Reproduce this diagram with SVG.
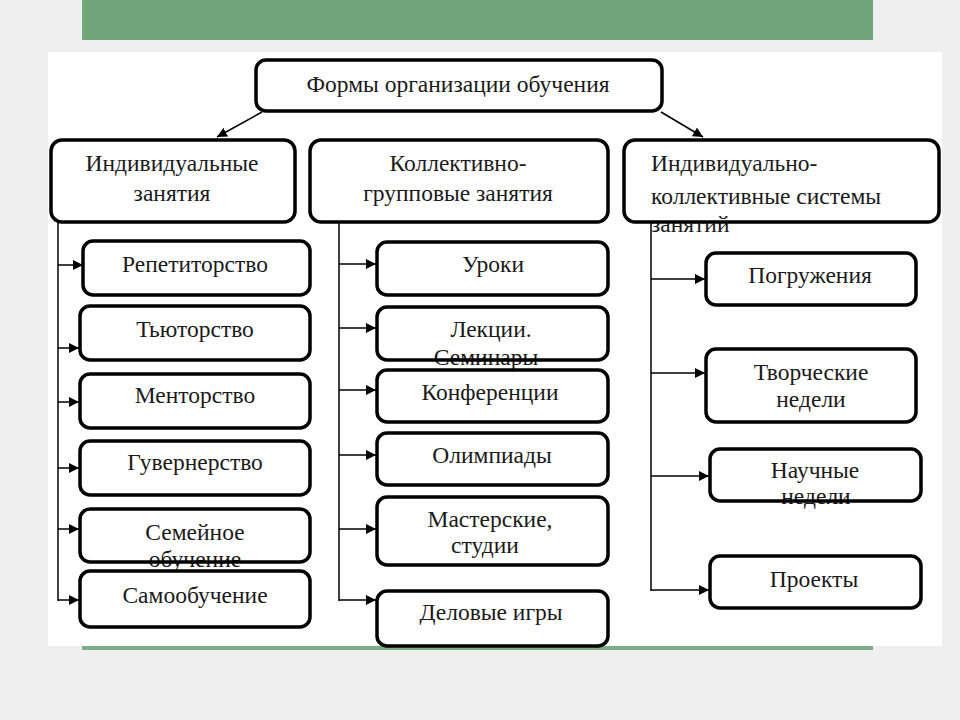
<svg xmlns="http://www.w3.org/2000/svg" width="960" height="720" viewBox="0 0 960 720">
<style>
.bx{fill:#fff;stroke:none}
.bs{fill:none;stroke:#000;stroke-width:3.5}
.t{font-family:"Liberation Serif","Times New Roman",serif;font-size:23.5px;fill:#1a1a1a;text-anchor:middle}
.tl{text-anchor:start}
.c{stroke:#000;stroke-width:1.5;fill:none}
</style>
<defs>
<marker id="ah" markerUnits="userSpaceOnUse" markerWidth="10" markerHeight="10" refX="10" refY="5" orient="auto">
<path d="M0,0 L10,5 L0,10 z" fill="#000"/>
</marker>
</defs>
<rect x="0" y="0" width="960" height="720" fill="#efefef"/>
<rect x="82" y="0" width="791" height="40" fill="#70a67a"/>
<rect x="48" y="52" width="894" height="594" fill="#fff"/>
<rect x="82" y="646" width="791" height="4" fill="#7fae86"/>

<g id="connectors">
<line class="c" x1="262" y1="112" x2="217" y2="137" marker-end="url(#ah)"/>
<line class="c" x1="661" y1="112" x2="703" y2="137" marker-end="url(#ah)"/>
<line class="c" x1="58" y1="222" x2="58" y2="601"/>
<line class="c" x1="58" y1="265" x2="83" y2="265" marker-end="url(#ah)"/>
<line class="c" x1="58" y1="348" x2="79" y2="348" marker-end="url(#ah)"/>
<line class="c" x1="58" y1="402" x2="79" y2="402" marker-end="url(#ah)"/>
<line class="c" x1="58" y1="468" x2="79" y2="468" marker-end="url(#ah)"/>
<line class="c" x1="58" y1="529" x2="79" y2="529" marker-end="url(#ah)"/>
<line class="c" x1="58" y1="600" x2="79" y2="600" marker-end="url(#ah)"/>
<line class="c" x1="339" y1="222" x2="339" y2="601"/>
<line class="c" x1="339" y1="264" x2="376" y2="264" marker-end="url(#ah)"/>
<line class="c" x1="339" y1="328" x2="376" y2="328" marker-end="url(#ah)"/>
<line class="c" x1="339" y1="390" x2="376" y2="390" marker-end="url(#ah)"/>
<line class="c" x1="339" y1="455" x2="376" y2="455" marker-end="url(#ah)"/>
<line class="c" x1="339" y1="529" x2="376" y2="529" marker-end="url(#ah)"/>
<line class="c" x1="339" y1="600" x2="376" y2="600" marker-end="url(#ah)"/>
<line class="c" x1="651" y1="222" x2="651" y2="591"/>
<line class="c" x1="651" y1="279" x2="705" y2="279" marker-end="url(#ah)"/>
<line class="c" x1="651" y1="373" x2="705" y2="373" marker-end="url(#ah)"/>
<line class="c" x1="651" y1="476" x2="709" y2="476" marker-end="url(#ah)"/>
<line class="c" x1="651" y1="590" x2="709" y2="590" marker-end="url(#ah)"/>
</g>

<g id="root">
<rect class="bx" x="256" y="60" width="406" height="51" rx="10"/>
<text class="t" x="458" y="92">Формы организации обучения</text>
<rect class="bs" x="256" y="60" width="406" height="51" rx="10"/>
</g>

<g id="individual">
<rect class="bx" x="51" y="140" width="244" height="82" rx="11"/>
<text class="t" x="172" y="171">Индивидуальные</text>
<text class="t" x="172" y="201">занятия</text>
<rect class="bs" x="51" y="140" width="244" height="82" rx="11"/>
</g>
<g id="collective">
<rect class="bx" x="310" y="140" width="298" height="82" rx="11"/>
<text class="t" x="458" y="171">Коллективно-</text>
<text class="t" x="458" y="201">групповые занятия</text>
<rect class="bs" x="310" y="140" width="298" height="82" rx="11"/>
</g>
<g id="indcoll">
<rect class="bx" x="624" y="140" width="315" height="82" rx="11"/>
<text class="t tl" x="651" y="171">Индивидуально-</text>
<text class="t tl" x="651" y="204">коллективные системы</text>
<text class="t tl" x="651" y="232">занятий</text>
<rect class="bs" x="624" y="140" width="315" height="82" rx="11"/>
</g>

<g id="a1"><rect class="bx" x="83" y="241" width="227" height="54" rx="10"/><text class="t" x="195" y="272">Репетиторство</text><rect class="bs" x="83" y="241" width="227" height="54" rx="10"/></g>
<g id="a2"><rect class="bx" x="80" y="306" width="230" height="54" rx="10"/><text class="t" x="195" y="337">Тьюторство</text><rect class="bs" x="80" y="306" width="230" height="54" rx="10"/></g>
<g id="a3"><rect class="bx" x="80" y="374" width="230" height="54" rx="10"/><text class="t" x="195" y="403">Менторство</text><rect class="bs" x="80" y="374" width="230" height="54" rx="10"/></g>
<g id="a4"><rect class="bx" x="80" y="441" width="230" height="54" rx="10"/><text class="t" x="195" y="470">Гувернерство</text><rect class="bs" x="80" y="441" width="230" height="54" rx="10"/></g>
<g id="a5"><rect class="bx" x="80" y="509" width="230" height="53" rx="10"/><text class="t" x="195" y="540">Семейное</text><text class="t" x="195" y="567">обучение</text><rect class="bs" x="80" y="509" width="230" height="53" rx="10"/></g>
<g id="a6"><rect class="bx" x="80" y="571" width="230" height="56" rx="10"/><text class="t" x="195" y="603">Самообучение</text><rect class="bs" x="80" y="571" width="230" height="56" rx="10"/></g>

<g id="b1"><rect class="bx" x="377" y="242" width="231" height="53" rx="10"/><text class="t" x="493" y="272">Уроки</text><rect class="bs" x="377" y="242" width="231" height="53" rx="10"/></g>
<g id="b2"><rect class="bx" x="377" y="307" width="231" height="53" rx="10"/><text class="t" x="491" y="337">Лекции.</text><text class="t" x="486" y="365">Семинары</text><rect class="bs" x="377" y="307" width="231" height="53" rx="10"/></g>
<g id="b3"><rect class="bx" x="377" y="370" width="231" height="52" rx="10"/><text class="t" x="490" y="400">Конференции</text><rect class="bs" x="377" y="370" width="231" height="52" rx="10"/></g>
<g id="b4"><rect class="bx" x="377" y="433" width="231" height="52" rx="10"/><text class="t" x="492" y="463">Олимпиады</text><rect class="bs" x="377" y="433" width="231" height="52" rx="10"/></g>
<g id="b5"><rect class="bx" x="377" y="497" width="231" height="68" rx="10"/><text class="t" x="490" y="527">Мастерские,</text><text class="t" x="485" y="553">студии</text><rect class="bs" x="377" y="497" width="231" height="68" rx="10"/></g>
<g id="b6"><rect class="bx" x="377" y="591" width="231" height="55" rx="10"/><text class="t" x="491" y="620">Деловые игры</text><rect class="bs" x="377" y="591" width="231" height="55" rx="10"/></g>

<g id="c1"><rect class="bx" x="706" y="253" width="210" height="52" rx="10"/><text class="t" x="810" y="283">Погружения</text><rect class="bs" x="706" y="253" width="210" height="52" rx="10"/></g>
<g id="c2"><rect class="bx" x="706" y="349" width="210" height="73" rx="10"/><text class="t" x="811" y="380">Творческие</text><text class="t" x="811" y="407">недели</text><rect class="bs" x="706" y="349" width="210" height="73" rx="10"/></g>
<g id="c3"><rect class="bx" x="710" y="449" width="211" height="52" rx="10"/><text class="t" x="815" y="478">Научные</text><text class="t" x="816" y="504">недели</text><rect class="bs" x="710" y="449" width="211" height="52" rx="10"/></g>
<g id="c4"><rect class="bx" x="710" y="556" width="211" height="52" rx="10"/><text class="t" x="814" y="587">Проекты</text><rect class="bs" x="710" y="556" width="211" height="52" rx="10"/></g>
</svg>
